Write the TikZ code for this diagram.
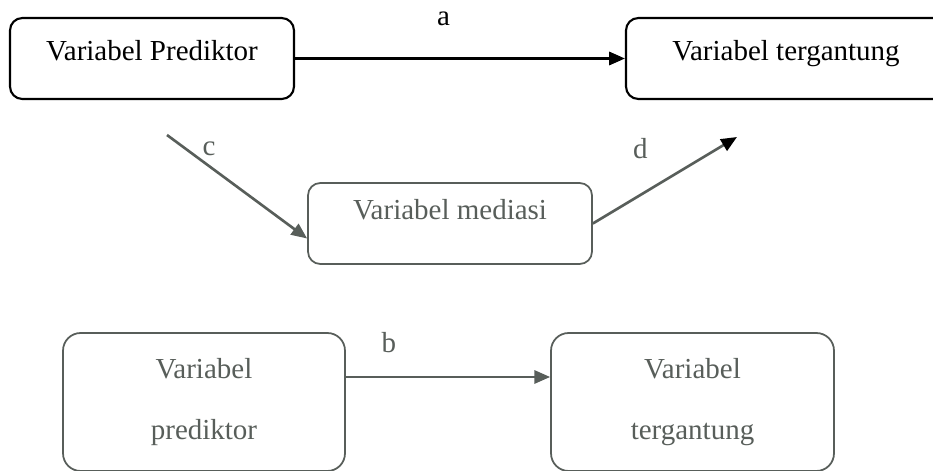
\documentclass[tikz,border=0pt]{standalone}
\usepackage{fontspec}
\setmainfont{Liberation Serif}
\usetikzlibrary{arrows.meta,positioning,calc}
\definecolor{medgray}{RGB}{88,94,90}

\begin{document}
\begin{tikzpicture}[x=0.02cm, y=-0.02cm,
    every node/.style={font=\fontsize{16.5}{19.5}\selectfont},
    box/.style={draw, rounded corners=7pt, line width=1.2pt, inner sep=0pt, text height=12pt, text depth=10pt},
    softbox/.style={draw=medgray, text=medgray, rounded corners=7pt, line width=1pt, inner sep=0pt},
    conn/.style={line width=1.5pt, -{Triangle[length=9pt, width=7.5pt]}},
    lbl/.style={inner sep=0pt}]
  \useasboundingbox (0,0) rectangle (933,470);
  % top row
  \node[box, minimum width=5.68cm, minimum height=1.62cm] (prediktor) at (152,58.5) {Variabel Prediktor};
  \node[box, minimum width=6.4cm, minimum height=1.62cm] (tergantung) at (786,58.5) {Variabel tergantung};
  % mediator
  \node[softbox, minimum width=5.68cm, minimum height=1.62cm, text height=12pt, text depth=16pt] (mediasi) at (450,223.5) {Variabel mediasi};
  % bottom row
  \node[softbox, rounded corners=10pt, align=center, minimum width=5.64cm, minimum height=2.76cm] (prediktorB) at (204,402) {Variabel\\[14.8pt]prediktor};
  \node[softbox, rounded corners=10pt, align=center, minimum width=5.66cm, minimum height=2.76cm] (tergantungB) at (692.5,402) {Variabel\\[14.8pt]tergantung};
  \coordinate (cstart) at (167,135);
  \coordinate (dend) at (737,137);
  \draw[conn] (prediktor.east) -- node[lbl, pos=0.45, above=18pt]{a} (tergantung.west);
  \draw[conn, medgray] (cstart) -- node[lbl, pos=0.3, above=5pt]{c} (mediasi.186);
  \draw[conn, medgray, -{Triangle[length=9pt, width=7.5pt, black]}] (mediasi.east) -- node[lbl, pos=0.33, above=20pt]{d} (dend);
  \draw[conn, medgray] (prediktorB.10) -- node[lbl, pos=0.21, above=13pt]{b} (prediktorB.10 -| tergantungB.west);
\end{tikzpicture}
\end{document}
